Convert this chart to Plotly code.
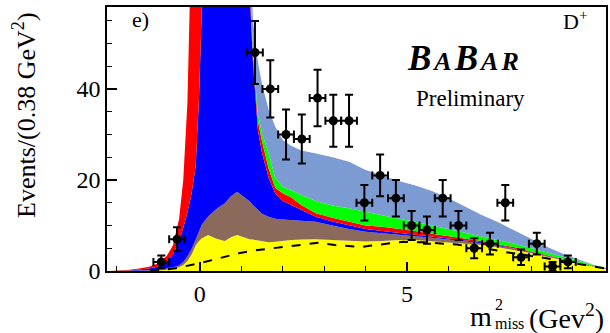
import plotly.graph_objects as go

# ---- data points (bin centres, counts, errors) ----
bin_x = [-0.93, -0.55, 1.33, 1.70, 2.08, 2.46, 2.84, 3.22, 3.60, 3.97, 4.35, 4.73,
         5.11, 5.48, 5.86, 6.24, 6.62, 7.00, 7.37, 7.75, 8.13, 8.51, 8.88]
counts = [2, 7, 48, 40, 30, 29, 38, 33, 33, 15, 21, 16, 10, 9, 16, 10, 5, 6, 15, 3, 6, 1, 2]
count_err = [1.4, 2.6, 6.9, 6.3, 5.5, 5.4, 6.2, 5.7, 5.7, 3.9, 4.6, 4.0, 3.2, 3.0, 4.0,
             3.2, 2.2, 2.4, 3.9, 1.7, 2.4, 1.0, 1.4]
bin_half = [0.19] * len(bin_x)

# ---- stacked model components (cumulative tops) ----
grid_x = [-2.24, -1.8, -1.5, -1.2, -1.0, -0.8, -0.65, -0.5, -0.4, -0.3, -0.2, -0.1, -0.02,
          0.05, 0.2, 0.4, 0.6, 0.75, 0.9, 1.05, 1.2, 1.28, 1.4, 1.5, 1.66, 1.82, 2.0, 2.2,
          2.45, 2.8, 3.2, 3.6, 4.0, 4.4, 4.8, 5.2, 5.6, 6.0, 6.4, 6.8, 7.2, 7.6, 8.0, 8.4,
          8.8, 9.2, 9.5, 9.8]
yellow_top = [0, 0, 0, 0.05, 0.1, 0.3, 0.5, 0.8, 1.3, 2.2, 3.6, 5.6, 6.6,
              7.2, 7.9, 7.1, 6.6, 7.4, 7.9, 7.4, 7.0, 6.9, 6.7, 6.5, 6.3, 6.4, 6.6, 6.8,
              6.9, 7.0, 6.8, 6.6, 6.5, 6.6, 6.8, 6.8, 6.5, 6.3, 6.0, 5.7, 5.2, 4.6, 3.9, 3.1,
              2.3, 1.5, 0.95, 0.45]
brown_top = [0, 0, 0, 0.1, 0.2, 0.5, 0.8, 1.2, 2.0, 3.2, 4.8, 6.9, 8.8,
             10.2, 12.0, 13.6, 14.9, 16.4, 17.4, 16.4, 15.3, 14.5, 13.4, 12.6, 11.9, 11.5, 11.3, 11.2,
             11.1, 10.8, 10.0, 9.2, 8.6, 8.3, 8.0, 7.6, 7.3, 6.9, 6.5, 6.1, 5.5, 4.9, 4.05, 3.2,
             2.3, 1.6, 1.0, 0.5]
blue_top = [0, 0.05, 0.25, 0.6, 1.0, 1.9, 3.6, 6.5, 9.5, 12.8, 17, 23, 38,
            90, 150, 160, 160, 160, 150, 120, 62, 46, 31, 26, 20.5, 17.0, 15.4, 14.5,
            13.4, 11.9, 10.9, 10.0, 9.2, 8.8, 8.4, 8.0, 7.6, 7.2, 6.8, 6.3, 5.7, 5.0, 4.15, 3.3,
            2.4, 1.65, 1.05, 0.55]
red_top = [0, 0.15, 0.5, 1.0, 1.7, 3.3, 5.6, 11.5, 20, 37, 75, 110, 140,
           160, 170, 175, 175, 175, 165, 123, 64, 47.5, 33, 28.5, 22.5, 18.3, 17.1, 16.2,
           14.5, 12.7, 11.7, 10.8, 10.0, 9.7, 9.3, 8.8, 8.2, 7.7, 7.2, 6.6, 5.9, 5.2, 4.3, 3.4,
           2.5, 1.7, 1.1, 0.6]
green_top = [0, 0.15, 0.5, 1.0, 1.7, 3.3, 5.6, 11.5, 20, 37, 75, 110, 140,
             160, 170, 175, 175, 175, 167, 125, 66, 49, 34.5, 30.3, 25.8, 20.5, 18.5, 17.8,
             16.7, 15.4, 14.4, 13.8, 13.0, 12.2, 11.5, 10.8, 10.0, 9.2, 8.4, 7.7, 6.8, 6.0, 5.0, 4.0,
             2.9, 2.0, 1.3, 0.7]
lightblue_top = [0, 0.15, 0.5, 1.0, 1.7, 3.3, 5.6, 11.5, 20, 37, 75, 110, 140,
                 160, 170, 175, 175, 175, 170, 135, 80, 55, 46, 41, 35.5, 31.7, 28.8, 27.5,
                 26.5, 25.8, 25.0, 24.0, 22.2, 21.0, 19.8, 18.8, 17.6, 16.0, 14.2, 12.3, 10.7, 8.9, 7.0, 5.2,
                 3.6, 2.3, 1.4, 0.7]

# ---- dashed curve ----
dash_x = [-1.2, -0.9, -0.58, -0.3, -0.02, 0.3, 0.6, 0.94, 1.3, 1.74, 2.1, 2.46, 2.86, 3.26,
          3.6, 3.9, 4.14, 4.5, 4.9, 5.4, 5.75, 6.2, 6.55, 7.0, 7.35, 7.75, 8.15, 8.55, 8.95,
          9.35, 9.8]
dash_y = [0, 0.2, 0.6, 1.1, 1.7, 2.4, 3.1, 3.9, 4.5, 5.0, 5.5, 5.9, 6.2, 5.7,
          5.4, 5.3, 5.6, 6.0, 6.4, 6.3, 6.1, 5.8, 5.3, 4.8, 4.2, 3.7, 3.1, 2.5, 1.9,
          1.2, 0.5]

layers = [
    (yellow_top, "#ffff00", "tozeroy"),
    (brown_top, "#8b6a5c", "tonexty"),
    (blue_top, "#0000ff", "tonexty"),
    (red_top, "#ff0000", "tonexty"),
    (green_top, "#00ff00", "tonexty"),
    (lightblue_top, "#7b9bd2", "tonexty"),
]

fig = go.Figure()
for tops, col, fm in layers:
    fig.add_trace(go.Scatter(x=grid_x, y=tops, mode="lines", fill=fm, fillcolor=col,
                             line=dict(width=0, color=col), showlegend=False, hoverinfo="skip"))

fig.add_trace(go.Scatter(x=dash_x, y=dash_y, mode="lines",
                         line=dict(color="black", width=2, dash="dash"), showlegend=False))

fig.add_trace(go.Scatter(
    x=bin_x, y=counts, mode="markers",
    marker=dict(color="black", size=9),
    error_y=dict(type="data", array=count_err, color="black", thickness=2, width=4),
    error_x=dict(type="data", array=bin_half, color="black", thickness=2, width=4),
    showlegend=False))

serif = "Liberation Serif"

fig.update_layout(
    width=610, height=333,
    margin=dict(l=107, r=2, t=7, b=62),
    paper_bgcolor="white", plot_bgcolor="white",
    font=dict(family=serif, color="black"),
    xaxis=dict(range=[-2.24, 9.8], tickmode="linear", tick0=0, dtick=5,
               ticks="inside", ticklen=9, tickwidth=1.5, tickcolor="black",
               minor=dict(dtick=1, ticklen=5, ticks="inside", tickcolor="black", tickwidth=1.2),
               showline=True, linecolor="black", linewidth=1.5, mirror=True,
               showgrid=False, zeroline=False,
               tickfont=dict(family=serif, size=24, color="black")),
    yaxis=dict(range=[0, 58], tickmode="linear", tick0=0, dtick=20,
               ticks="inside", ticklen=10, tickwidth=1.5, tickcolor="black",
               minor=dict(dtick=5, ticklen=5, ticks="inside", tickcolor="black", tickwidth=1.2),
               showline=True, linecolor="black", linewidth=1.5, mirror=True,
               showgrid=False, zeroline=False,
               tickfont=dict(family=serif, size=24, color="black")),
)

ann = []
ann.append(dict(text="e)", x=-1.42, y=55.2, xref="x", yref="y", showarrow=False,
                font=dict(family=serif, size=22), xanchor="center", yanchor="middle"))
ann.append(dict(text="D<sup>+</sup>", x=9.42, y=55.2, xref="x", yref="y", showarrow=False,
                font=dict(family=serif, size=22), xanchor="right", yanchor="middle"))
# BaBar logo
ann.append(dict(text="<b><i><span style='letter-spacing:3px'>B<span style='font-size:26px'>A</span>B"
                     "<span style='font-size:26px'>AR</span></span></i></b>",
                x=6.38, y=46.6, xref="x", yref="y", showarrow=False,
                font=dict(family=serif, size=35, color="black"),
                xanchor="center", yanchor="middle"))
ann.append(dict(text="Preliminary", x=6.53, y=37.8, xref="x", yref="y", showarrow=False,
                font=dict(family=serif, size=23), xanchor="center", yanchor="middle"))
# axis titles
ann.append(dict(text="Events/(0.38 GeV<sup>2</sup>)", x=-0.165, y=0.59, xref="paper", yref="paper",
                textangle=-90, showarrow=False, font=dict(family=serif, size=26),
                xanchor="center", yanchor="middle"))
ann.append(dict(text="m", x=0.776, y=-0.174, xref="paper", yref="paper", showarrow=False,
                font=dict(family=serif, size=28), xanchor="right", yanchor="middle"))
ann.append(dict(text="2", x=0.774, y=-0.125, xref="paper", yref="paper", showarrow=False,
                font=dict(family=serif, size=16), xanchor="left", yanchor="middle"))
ann.append(dict(text="miss", x=0.774, y=-0.20, xref="paper", yref="paper", showarrow=False,
                font=dict(family=serif, size=16), xanchor="left", yanchor="middle"))
ann.append(dict(text="(Gev<sup>2</sup>)", x=1.0, y=-0.174, xref="paper", yref="paper", showarrow=False,
                font=dict(family=serif, size=28), xanchor="right", yanchor="middle"))
fig.update_layout(annotations=ann)

fig.write_html("out.html")
